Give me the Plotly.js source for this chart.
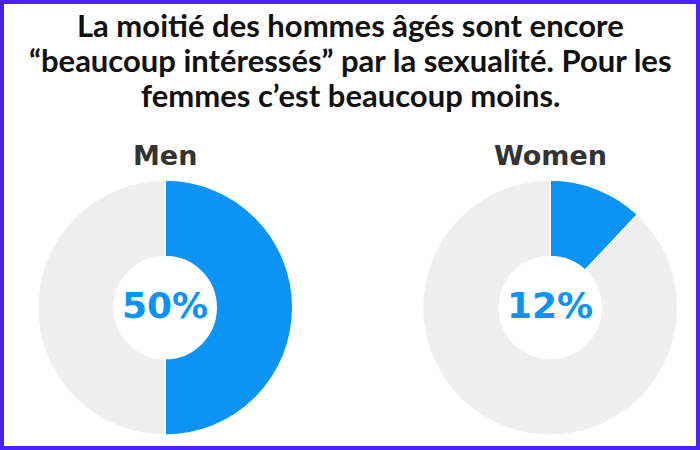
<!DOCTYPE html>
<html>
<head>
<meta charset="utf-8">
<script src="https://cdn.plot.ly/plotly-3.0.1.min.js"></script>
<style>
html,body{margin:0;padding:0;background:#fff;}
#chart{width:700px;height:450px;}
</style>
</head>
<body>
<div id="chart"></div>
<script>
const titleLines = [
  "La moitié des hommes âgés sont encore",
  "“beaucoup intéressés” par la sexualité. Pour les",
  "femmes c’est beaucoup moins."
];
const groups = ["Men", "Women"];
const shareInterested = [50, 12];
const shareOther = [50, 88];

const blue = "#0b93f6";
const grey = "#efefef";
const domainsX = [[0.053, 0.419], [0.603, 0.969]];
const domainY = [0.033, 0.6];

const traces = groups.map((g, i) => ({
  type: "pie",
  values: [shareInterested[i], shareOther[i]],
  labels: ["Interested", "Other"],
  hole: 0.4,
  sort: false,
  direction: "clockwise",
  rotation: 0,
  textinfo: "none",
  hoverinfo: "none",
  showlegend: false,
  marker: {colors: [blue, grey], line: {color: "#ffffff", width: 1.5}},
  domain: {x: domainsX[i], y: domainY}
}));

const annotations = [];
const titleY = [25, 60, 95];
titleLines.forEach((t, k) => {
  annotations.push({
    text: "<b>" + t + "</b>", x: 0.5, y: 1 - titleY[k] / 450, xref: "paper", yref: "paper",
    showarrow: false, xanchor: "center", yanchor: "middle",
    font: {family: "Lato", size: 31, color: "#111111"}
  });
});
groups.forEach((g, i) => {
  const cx = (domainsX[i][0] + domainsX[i][1]) / 2;
  const cy = (domainY[0] + domainY[1]) / 2;
  annotations.push({
    text: "<b>" + g + "</b>", x: cx, y: 0.655, xref: "paper", yref: "paper",
    showarrow: false, xanchor: "center", yanchor: "middle",
    font: {family: "DejaVu Sans", size: 27, color: "#333333"}
  });
  annotations.push({
    text: "<b>" + shareInterested[i] + "%</b>", x: cx, y: cy + 0.004, xref: "paper", yref: "paper",
    showarrow: false, xanchor: "center", yanchor: "middle",
    font: {family: "DejaVu Sans", size: 36, color: blue}
  });
});

const layout = {
  width: 700, height: 450,
  margin: {l: 0, r: 0, t: 0, b: 0},
  paper_bgcolor: "#ffffff",
  annotations: annotations,
  shapes: [{
    type: "rect", xref: "paper", yref: "paper", x0: 0, x1: 1, y0: 0, y1: 1,
    line: {color: "#4b22f5", width: 8}, layer: "above"
  }]
};

Plotly.newPlot("chart", traces, layout, {displayModeBar: false, staticPlot: true});
</script>
</body>
</html>
